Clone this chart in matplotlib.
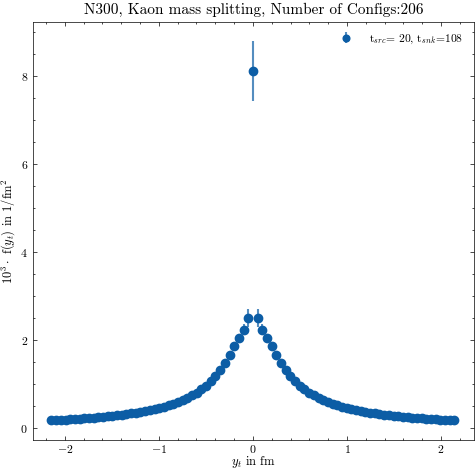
import numpy as np
import matplotlib
matplotlib.use("Agg")
import matplotlib.pyplot as plt
from matplotlib.ticker import MultipleLocator

plt.rcParams['font.family'] = 'serif'
plt.rcParams['font.serif'] = ['cmr10', 'DejaVu Serif']
plt.rcParams['mathtext.fontset'] = 'cm'
plt.rcParams['axes.formatter.use_mathtext'] = True

# lattice spacing of N300 (fm) and time slice offsets
a = 0.0498
n = np.arange(-43, 44)

# f(y_t) * 10^3, left side (n=-43..-1), centre, right side (n=1..43)
f_left = [0.18, 0.185, 0.19, 0.195, 0.20, 0.21, 0.215, 0.225, 0.235, 0.24,
          0.25, 0.26, 0.27, 0.28, 0.29, 0.305, 0.32, 0.335, 0.35, 0.37,
          0.39, 0.41, 0.43, 0.46, 0.49, 0.52, 0.56, 0.60, 0.64, 0.69,
          0.75, 0.81, 0.88, 0.96, 1.07, 1.19, 1.33, 1.49, 1.67, 1.86,
          2.05, 2.24, 2.51]
f_centre = [8.12]
f_right = [2.51, 2.24, 2.05, 1.86, 1.67, 1.49, 1.33, 1.19, 1.07, 0.96,
           0.88, 0.81, 0.75, 0.69, 0.64, 0.60, 0.56, 0.52, 0.49, 0.46,
           0.43, 0.41, 0.39, 0.37, 0.35, 0.335, 0.32, 0.305, 0.29, 0.28,
           0.27, 0.26, 0.25, 0.24, 0.235, 0.225, 0.22, 0.21, 0.20, 0.195,
           0.19, 0.18, 0.175]

e_left = [0.01, 0.01, 0.01, 0.01, 0.01, 0.01, 0.01, 0.01, 0.01, 0.01,
          0.012, 0.012, 0.012, 0.012, 0.012, 0.014, 0.014, 0.014, 0.015, 0.015,
          0.016, 0.017, 0.018, 0.02, 0.02, 0.022, 0.024, 0.026, 0.028, 0.03,
          0.033, 0.036, 0.04, 0.045, 0.05, 0.055, 0.06, 0.07, 0.08, 0.09,
          0.1, 0.13, 0.2]
e_centre = [0.68]
e_right = e_left[::-1]

y = np.array(f_left + f_centre + f_right)
err = np.array(e_left + e_centre + e_right)
yt = n * a

fig = plt.figure(figsize=(4.75, 4.70), dpi=100)
ax = fig.add_axes([0.069, 0.064, 0.929, 0.889])

eb = ax.errorbar(yt, y, yerr=err, fmt='o', color='#0C5DA5', ms=6,
                 elinewidth=1.5, capsize=0,
                 label=r't$_{src}$= 20, t$_{snk}$=108')
eb[2][0].set_alpha(0.7)

ax.set_title('N300, Kaon mass splitting, Number of Configs:206', fontsize=11)
ax.set_xlabel(r'$y_t$ in fm', fontsize=9, labelpad=-1)
ax.set_ylabel(r'$10^3\cdot$ f($y_t$) in 1/fm$^2$', fontsize=9, labelpad=2)
ax.set_xlim(-2.34, 2.35)

ax.xaxis.set_major_locator(MultipleLocator(1))
ax.xaxis.set_minor_locator(MultipleLocator(0.2))
ax.yaxis.set_major_locator(MultipleLocator(2))
ax.yaxis.set_minor_locator(MultipleLocator(0.5))
ax.tick_params(which='both', direction='in', top=True, right=True, labelsize=8.5)
ax.tick_params(axis='x', pad=2.5)
ax.tick_params(which='major', length=3, width=0.5)
ax.tick_params(which='minor', length=1.5, width=0.5)
for s in ax.spines.values():
    s.set_linewidth(0.5)

ax.legend(loc='upper right', frameon=False, fontsize=8.3, markerscale=0.8,
          handletextpad=1.0)

fig.savefig('out.png', dpi=100)
